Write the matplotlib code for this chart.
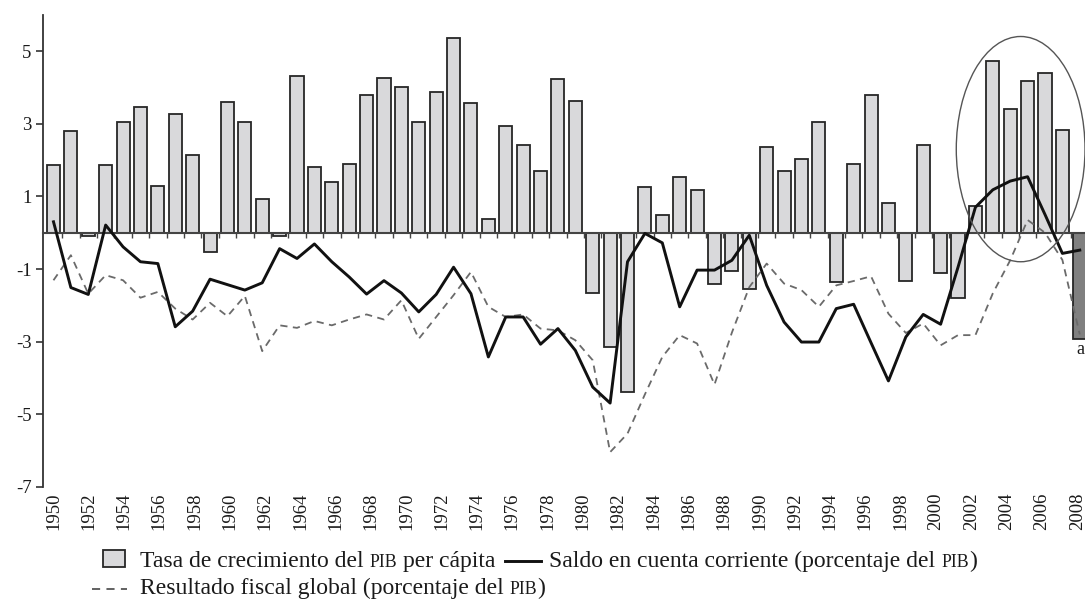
#! /usr/bin/env python3

import numpy as np
import matplotlib
matplotlib.use('Agg')
import matplotlib.pyplot as plt
from matplotlib.patches import Ellipse, Rectangle
from matplotlib.lines import Line2D
from matplotlib.transforms import IdentityTransform

# datos (porcentajes)
years = list(range(1950, 2010))
pib_pc = [1.86, 2.80, -0.10, 1.86, 3.05, 3.45, 1.29, 3.26, 2.13, -0.53,
          3.59, 3.05, 0.92, -0.10, 4.32, 1.81, 1.39, 1.89, 3.80, 4.26,
          4.01, 3.05, 3.87, 5.35, 3.58, 0.39, 2.94, 2.41, 1.70, 4.22,
          3.62, -1.66, -3.15, -4.39, 1.25, 0.50, 1.54, 1.17, -1.42, -1.05,
          -1.55, 2.35, 1.70, 2.02, 3.05, -1.35, 1.89, 3.80, 0.83, -1.34,
          2.42, -1.12, -1.80, 0.74, 4.72, 3.41, 4.18, 4.40, 2.84, -2.93]
cuenta_corriente = [0.30, -1.51, -1.70, 0.21, -0.39, -0.80, -0.85, -2.59, -2.16, -1.28,
                    -1.43, -1.58, -1.38, -0.44, -0.71, -0.31, -0.80, -1.22, -1.69, -1.32,
                    -1.66, -2.18, -1.70, -0.95, -1.68, -3.42, -2.32, -2.32, -3.07, -2.64,
                    -3.24, -4.25, -4.69, -0.80, -0.02, -0.28, -2.04, -1.03, -1.03, -0.76,
                    -0.07, -1.45, -2.46, -3.01, -3.01, -2.09, -1.97, -3.03, -4.08, -2.87,
                    -2.25, -2.52, -0.95, 0.70, 1.18, 1.42, 1.54, 0.50, -0.57, -0.48]
resultado_fiscal = [-1.31, -0.62, -1.68, -1.17, -1.31, -1.79, -1.63, -2.09, -2.39, -1.93,
                    -2.30, -1.74, -3.26, -2.55, -2.62, -2.43, -2.55, -2.39, -2.25, -2.39,
                    -1.86, -2.92, -2.32, -1.72, -1.08, -2.04, -2.32, -2.25, -2.64, -2.69,
                    -2.96, -3.51, -6.04, -5.53, -4.45, -3.42, -2.82, -3.05, -4.18, -2.75,
                    -1.50, -0.85, -1.40, -1.58, -2.04, -1.45, -1.33, -1.20, -2.23, -2.76,
                    -2.50, -3.10, -2.82, -2.82, -1.67, -0.76, 0.35, 0.00, -0.75, -2.80]
tick_years = list(range(1950, 2009, 2))

SERIF = 'Liberation Serif'
plt.rcParams['font.family'] = [SERIF, 'DejaVu Serif']
plt.rcParams['axes.unicode_minus'] = False

W, H = 1085, 601


def rich_text(fig, renderer, x, y, parts, size):
	# texto en trozos: (texto, escala). PIB va en versalitas simuladas
	em = size * fig.dpi / 72.0
	arts = []
	for txt, sc in parts:
		if txt.startswith(' '):
			x += 0.25 * em
		t = fig.text(x, y, txt.strip(), transform=IdentityTransform(), fontsize=size * sc,
					 family=SERIF, va='baseline', ha='left', color='#1a1a1a')
		arts.append(t)
		x += t.get_window_extent(renderer).width
		if txt.endswith(' '):
			x += 0.25 * em
	return x, arts


fig = plt.figure(figsize=(W / 100, H / 100), dpi=100)
ax = fig.add_axes([42.7 / W, 1 - 487 / H, 1 - 42.7 / W, (487 - 14.7) / H])

x = np.arange(len(years))
colors = ['#d9d9db'] * (len(years) - 1) + ['#808080']
ax.bar(x, pib_pc, width=0.75, color=colors, edgecolor='#262626', linewidth=1.3, zorder=2)
ax.plot(x, resultado_fiscal, color='#6a6a6a', lw=1.3, ls=(0, (4, 3)), zorder=3)
ax.plot(x, cuenta_corriente, color='#111111', lw=2.1, zorder=4)

ax.add_patch(Ellipse((55.6, 2.3), 7.4, 6.2, fill=False, edgecolor='#555555', lw=1.0, zorder=5))
ax.text(59.05, -2.97, 'a', ha='center', va='top', fontsize=13, color='#1a1a1a')

ax.set_xlim(-0.62, 59.3)
ax.set_ylim(-7, 6)

for s in ['top', 'right']:
	ax.spines[s].set_visible(False)
ax.spines['bottom'].set_position(('data', 0))
ax.spines['bottom'].set_color('#444444')
ax.spines['bottom'].set_linewidth(1.5)
ax.spines['bottom'].set_zorder(3)
ax.spines['left'].set_color('#333333')
ax.spines['left'].set_linewidth(1.3)

ax.set_xticks(np.arange(0.5, 59, 1))
ax.tick_params(axis='x', length=3.5, width=1.0, color='#444444', labelbottom=False)
ax.set_yticks(range(-7, 6, 2))
ax.tick_params(axis='y', length=5, width=1.2, color='#333333', pad=3, labelsize=13.5,
			   labelcolor='#1a1a1a')

secax = ax.secondary_xaxis(0)
secax.set_xticks(np.linspace(0, 58.85, 30), labels=[str(y) for y in tick_years])
secax.tick_params(length=0, pad=4, labelrotation=90, labelsize=13.5, labelcolor='#1a1a1a')
secax.spines['bottom'].set_visible(False)

# leyenda hecha a mano
renderer = fig.canvas.get_renderer()
lsize = 17

fig.add_artist(Rectangle((103, H - 567), 22, 17, transform=IdentityTransform(),
						 facecolor='#d9d9db', edgecolor='#262626', lw=1.3))
row1a = [('Tasa de crecimiento del ', 1.0), ('PIB', 0.75), (' per cápita', 1.0)]
end1, _ = rich_text(fig, renderer, 140, H - 567, row1a, lsize)
fig.add_artist(Line2D([end1 + 10, end1 + 46], [H - 561, H - 561], transform=IdentityTransform(),
					  color='#111111', lw=2.1))
row1b = [('Saldo en cuenta corriente (porcentaje del ', 1.0), ('PIB', 0.75), (')', 1.0)]
rich_text(fig, renderer, end1 + 54, H - 567, row1b, lsize)

fig.add_artist(Line2D([92, 127], [H - 589, H - 589], transform=IdentityTransform(),
					  color='#555555', lw=1.3, ls=(0, (4.5, 3.5))))
row2 = [('Resultado fiscal global (porcentaje del ', 1.0), ('PIB', 0.75), (')', 1.0)]
rich_text(fig, renderer, 140, H - 594, row2, lsize)

plt.savefig('out.png', dpi=100)
plt.close()
